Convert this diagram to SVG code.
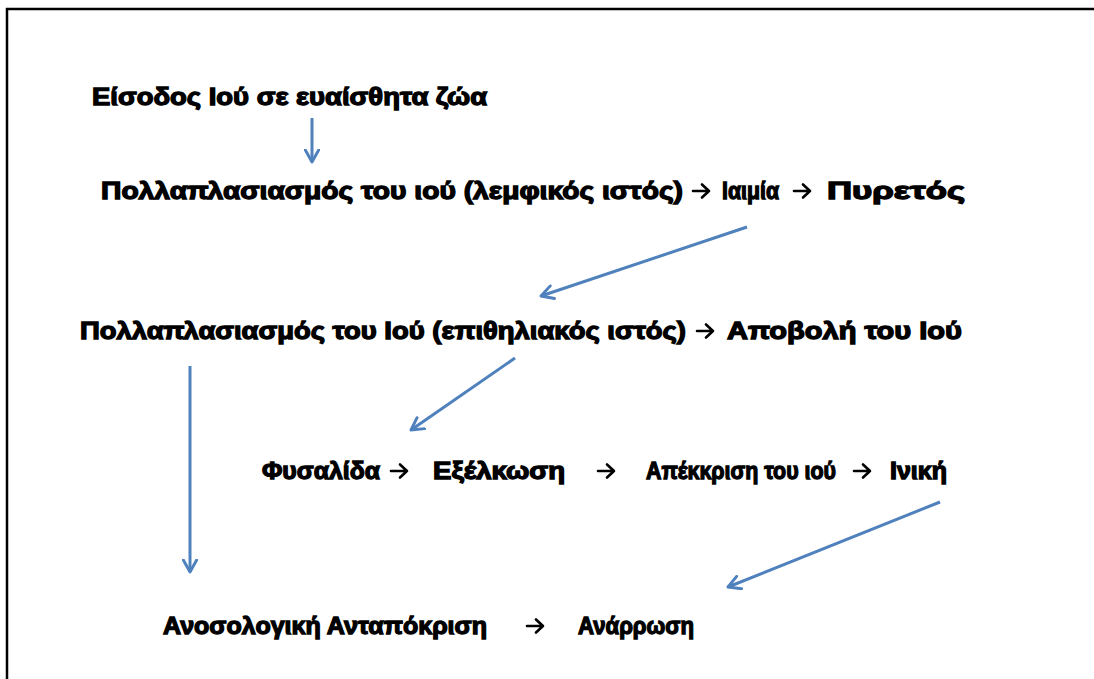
<svg xmlns="http://www.w3.org/2000/svg" width="1094" height="679" viewBox="0 0 1094 679">
<style>
  .t { font-family: "Liberation Sans", "DejaVu Sans", sans-serif; font-weight: bold; font-size: 24px; fill: #000; stroke: #000; stroke-width: 1.3; }
  .c { stroke: #4F81BD; stroke-width: 3; fill: none; }
  .k { stroke: #000; stroke-width: 2.6; fill: none; stroke-linecap: round; stroke-linejoin: round; }
</style>
<defs>
  <marker id="head" viewBox="0 0 12 12" refX="10" refY="6" markerWidth="16" markerHeight="16" markerUnits="userSpaceOnUse" orient="auto">
    <polyline points="1,1 10,6 1,11" fill="none" stroke="#4F81BD" stroke-width="2.2" stroke-linecap="round" stroke-linejoin="round"/>
  </marker>
  <path id="ka" d="M0,0 H16 M9,-6.5 L16,0 L9,6.5"/>
</defs>
<rect width="1094" height="679" fill="#fff"/>
<path d="M7,679 V9 H1094" fill="none" stroke="#000" stroke-width="2.5"/>

<g id="n1"><text class="t" x="92" y="105" textLength="395" lengthAdjust="spacingAndGlyphs">Είσοδος Ιού σε ευαίσθητα ζώα</text></g>
<g id="n2"><text class="t" x="101" y="199" textLength="582" lengthAdjust="spacingAndGlyphs">Πολλαπλασιασμός του ιού (λεμφικός ιστός)</text></g>
<g id="n3"><text class="t" x="722" y="199" textLength="57" lengthAdjust="spacingAndGlyphs">Ιαιμία</text></g>
<g id="n4"><text class="t" x="827" y="199" textLength="138" lengthAdjust="spacingAndGlyphs">Πυρετός</text></g>
<g id="n5"><text class="t" x="80" y="339" textLength="606" lengthAdjust="spacingAndGlyphs">Πολλαπλασιασμός του Ιού (επιθηλιακός ιστός)</text></g>
<g id="n6"><text class="t" x="727" y="339" textLength="235" lengthAdjust="spacingAndGlyphs">Αποβολή του Ιού</text></g>
<g id="n7"><text class="t" x="262" y="479" textLength="118" lengthAdjust="spacingAndGlyphs">Φυσαλίδα</text></g>
<g id="n8"><text class="t" x="433" y="479" textLength="132" lengthAdjust="spacingAndGlyphs">Εξέλκωση</text></g>
<g id="n9"><text class="t" x="646" y="479" textLength="190" lengthAdjust="spacingAndGlyphs">Απέκκριση του ιού</text></g>
<g id="n10"><text class="t" x="890" y="479" textLength="57" lengthAdjust="spacingAndGlyphs">Ινική</text></g>
<g id="n11"><text class="t" x="163" y="634" textLength="324" lengthAdjust="spacingAndGlyphs">Ανοσολογική Ανταπόκριση</text></g>
<g id="n12"><text class="t" x="578" y="634" textLength="116" lengthAdjust="spacingAndGlyphs">Ανάρρωση</text></g>

<g id="connectors">
  <line class="c" x1="312" y1="118" x2="312" y2="162" marker-end="url(#head)"/>
  <line class="c" x1="747" y1="227" x2="541" y2="296" marker-end="url(#head)"/>
  <line class="c" x1="190" y1="366" x2="190" y2="572" marker-end="url(#head)"/>
  <line class="c" x1="515" y1="358" x2="411" y2="430" marker-end="url(#head)"/>
  <line class="c" x1="940" y1="502" x2="728" y2="587" marker-end="url(#head)"/>
  <use href="#ka" class="k" x="693" y="191"/>
  <use href="#ka" class="k" x="794" y="191"/>
  <use href="#ka" class="k" x="697" y="331"/>
  <use href="#ka" class="k" x="391" y="471"/>
  <use href="#ka" class="k" x="598" y="471"/>
  <use href="#ka" class="k" x="854" y="471"/>
  <use href="#ka" class="k" x="527" y="626"/>
</g>
</svg>
